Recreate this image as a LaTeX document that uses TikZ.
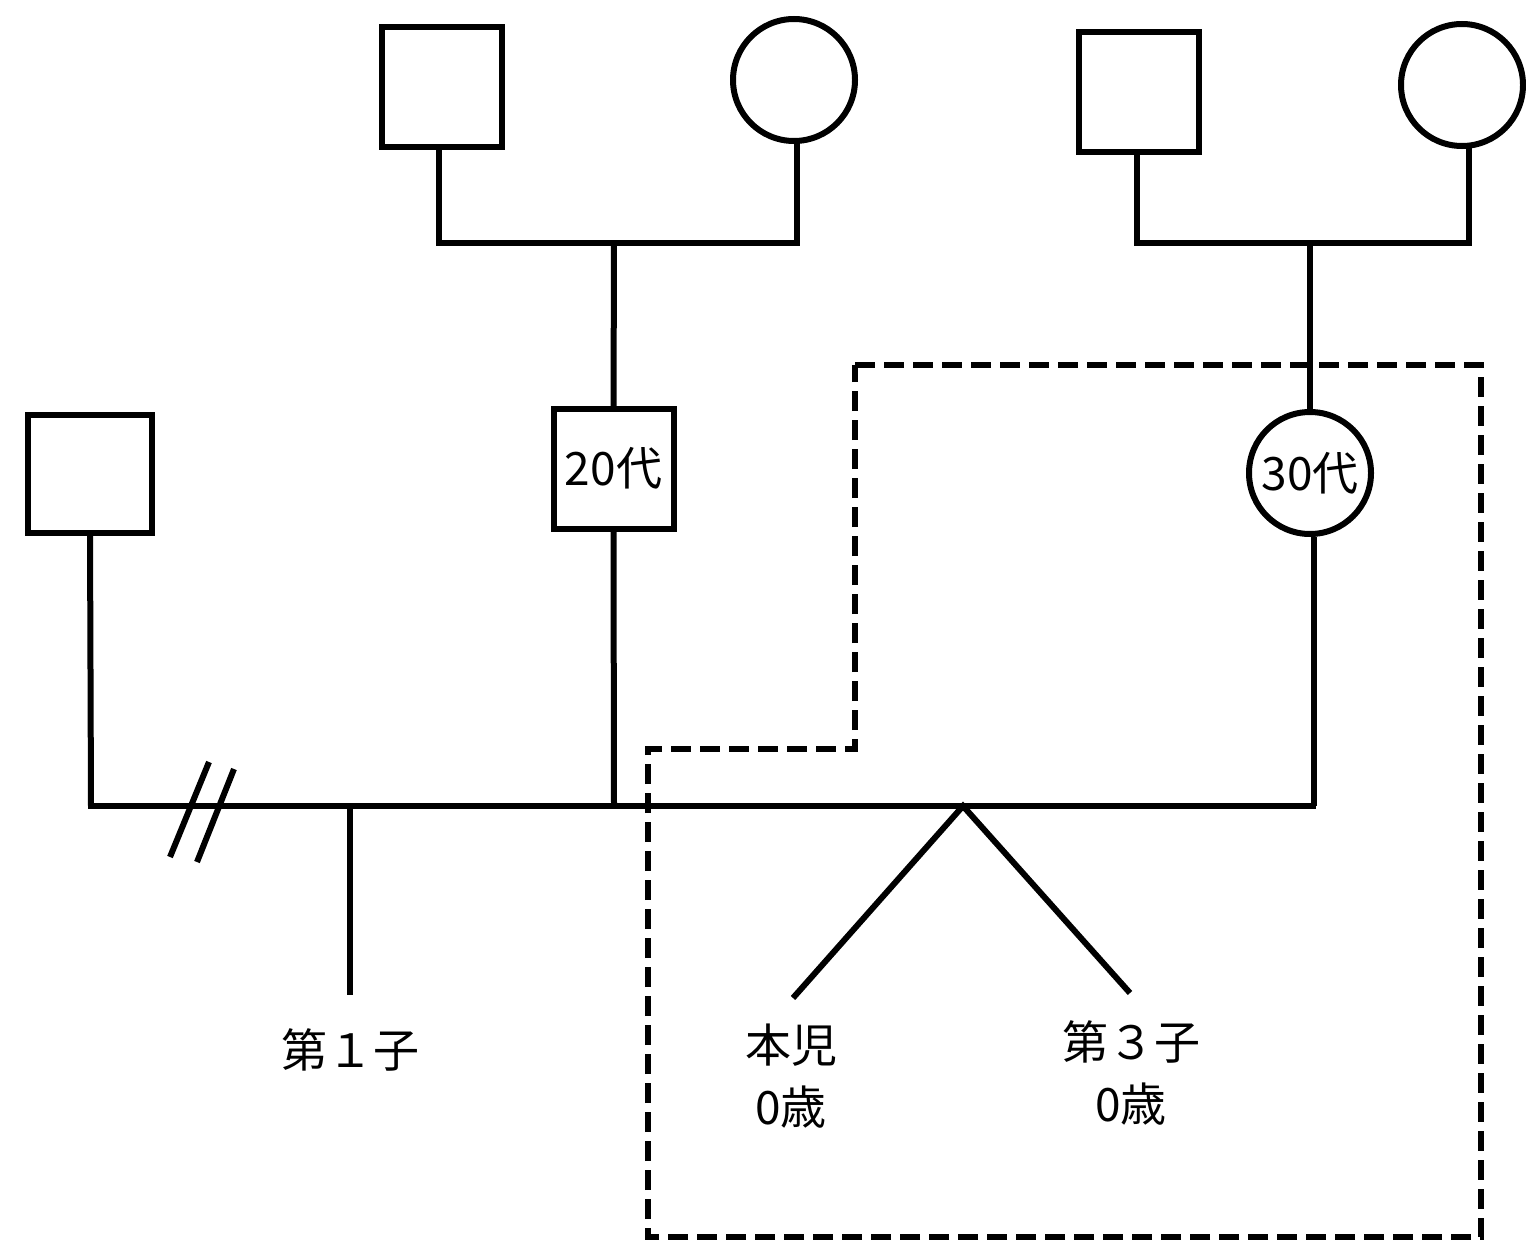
\documentclass[tikz,border=0pt]{standalone}
\usepackage{fontspec}
\setmainfont{Noto Sans CJK JP}
\begin{document}
\begin{tikzpicture}[x=1pt,y=-1pt,
  lw/.style={line width=6pt},
  male/.style={draw,lw,rectangle,minimum size=120pt,inner sep=0pt,outer sep=0pt},
  female/.style={draw,lw,circle,minimum size=122pt,inner sep=0pt,outer sep=0pt},
  lbl/.style={font=\fontsize{46}{62}\selectfont,inner sep=0pt,align=center},
  conn/.style={lw},
  frame/.style={line width=6pt,dash pattern=on 20pt off 9pt}]
\useasboundingbox (0,0) rectangle (1526,1244);
% grandparents left
\node[male] (gf1) at (442,87.5) {};
\node[female] (gm1) at (794,80) {};
% grandparents right
\node[male] (gf2) at (1139,92) {};
\node[female] (gm2) at (1462,85) {};
% parents
\node[male,lbl] (father) at (613.5,468.5) {20代};
\node[female,lbl] (mother) at (1310,473) {30代};
\node[male,minimum width=124pt,minimum height=118pt] (ex) at (90,474) {};
% junctions
\coordinate (c1l) at (439,243);
\coordinate (c1r) at (797,243);
\coordinate (c1m) at (614,243);
\coordinate (c2l) at (1137,243);
\coordinate (c2r) at (1469,243);
\coordinate (c2m) at (1310,243);
\coordinate (bl) at (91,806);
\coordinate (bm) at (614,806);
\coordinate (br) at (1314,806);
\coordinate (k1top) at (350,806);
\coordinate (k1bot) at (350,995);
\coordinate (twin) at (963,806);
\coordinate (tw1) at (793,998);
\coordinate (tw2) at (1130,993);
% grandparent couples
\draw[conn] (c1l |- gf1.south) -- (c1l) -- (c1r) -- (c1r |- gm1.south);
\draw[conn] (c1m) -- (father.north);
\draw[conn] (c2l |- gf2.south) -- (c2l) -- (c2r) -- (c2r |- gm2.south);
\draw[conn] (c2m) -- (mother.north);
% parents lines
\draw[conn] (ex.south) -- (bl);
\draw[conn] (father.south) -- (bm);
\draw[conn] (1314,537) -- (br);
\draw[conn] (88,806) -- (1316,806);
% divorce marks
\draw[conn] (170,857) -- (209,762);
\draw[conn] (197,862) -- (234,769);
% children
\draw[conn] (k1top) -- (k1bot);
\draw[conn] (tw1) -- (twin) -- (tw2);
\node[lbl] (child1) at (350,1050) {第１子};
\node[lbl] (proband) at (791,1076) {本児\\0歳};
\node[lbl] (child3) at (1131,1073) {第３子\\0歳};
% household frame
\draw[frame] (855,365) -- (1481,365) -- (1481,1237) -- (648,1237) -- (648,749) -- (855,749) -- cycle;
\end{tikzpicture}
\end{document}
